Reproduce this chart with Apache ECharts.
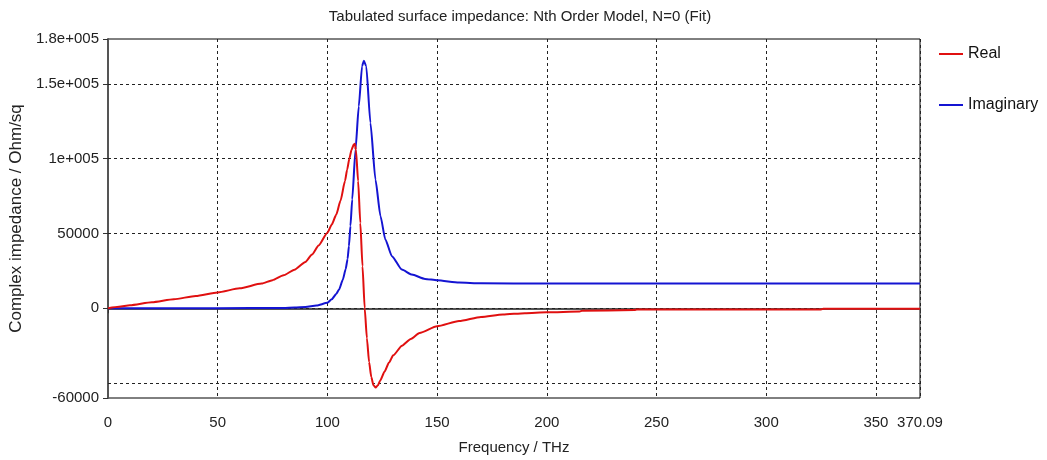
<!DOCTYPE html>
<html>
<head>
<meta charset="utf-8">
<script src="https://cdn.jsdelivr.net/npm/echarts@6/dist/echarts.min.js"></script>
<style>
html,body{margin:0;padding:0;background:#fff;}
#c{width:1047px;height:460px;}
</style>
</head>
<body>
<div id="c"></div>
<script>
// Data
var titleText = 'Tabulated surface impedance: Nth Order Model, N=0 (Fit)';
var seriesNames = ['Real', 'Imaginary'];

var realFreq = [0, 5, 10, 20, 30, 40, 50, 60, 70, 75, 80, 85, 90, 93, 96, 100, 102, 104, 106, 108, 109, 110, 111, 112, 112.5, 113, 114, 115, 116, 117, 118, 119, 120, 121, 122, 123, 124, 126, 128, 130, 134, 138, 142, 150, 160, 170, 180, 190, 200, 215, 216, 240, 241, 325, 326, 370.09];
var realVals = [0, 1000, 2000, 4000, 6000, 8200, 10600, 13300, 16500, 18800, 22000, 25800, 31000, 36000, 42000, 50500, 56000, 62500, 72000, 85000, 92700, 100000, 106000, 109500, 110000, 106000, 85000, 57000, 28000, 0, -20000, -36000, -46000, -51500, -53000, -51500, -48500, -42500, -36500, -31500, -25000, -20500, -16500, -12000, -8600, -5800, -4200, -3300, -2700, -2200, -1700, -1200, -800, -800, -300, -300];

var imagFreq = [0, 50, 80, 85, 90, 95, 100, 102, 104, 105.3, 107, 108.3, 109.2, 109.8, 110.5, 111.3, 112.8, 114.3, 115.8, 116.6, 117.7, 119.6, 121.9, 124.2, 126.4, 129.4, 133.9, 138.5, 144.5, 150, 160, 170, 200, 370.09];
var imagVals = [0, 0, 200, 500, 900, 1800, 3600, 6000, 9500, 12500, 19000, 26000, 33000, 41500, 55000, 72700, 106000, 135000, 161800, 165500, 161800, 124000, 86000, 61500, 46000, 34800, 25900, 22500, 19600, 18700, 17200, 16700, 16500, 16500];

var xTicks = [0, 50, 100, 150, 200, 250, 300, 350, 370.09];
var yTickValues = [-60000, 0, 50000, 100000, 150000, 180000];
var yTickLabels = ['-60000', '0', '50000', '1e+005', '1.5e+005', '1.8e+005'];
var yGridValues = [-50000, 0, 50000, 100000, 150000];

function pairs(xs, ys) {
  var out = [];
  for (var i = 0; i < xs.length; i++) out.push([xs[i], ys[i]]);
  return out;
}

var FONT = '"Liberation Sans", Arial, sans-serif';
var chart = echarts.init(document.getElementById('c'), null, {renderer: 'canvas'});

var yLabelMap = {};
yTickValues.forEach(function (v, i) { yLabelMap[v] = yTickLabels[i]; });

var gridMarkLines = yGridValues.map(function (v) { return {yAxis: v}; });

chart.setOption({
  animation: false,
  backgroundColor: '#ffffff',
  title: {
    text: titleText,
    left: 515,
    textAlign: 'center',
    top: 4,
    textStyle: {fontFamily: FONT, fontSize: 15, fontWeight: 'normal', color: '#222'}
  },
  legend: {
    orient: 'vertical',
    left: 934,
    top: 41,
    itemGap: 35,
    itemWidth: 24,
    itemHeight: 2,
    icon: 'rect',
    data: seriesNames,
    textStyle: {fontFamily: FONT, fontSize: 16, color: '#111'}
  },
  grid: {
    left: 108, right: 127, top: 39, bottom: 62,
    show: true, borderColor: '#000', borderWidth: 1, backgroundColor: '#fff'
  },
  xAxis: {
    type: 'value',
    min: 0,
    max: 370.09,
    interval: 50,
    name: 'Frequency / THz',
    nameLocation: 'middle',
    nameGap: 42,
    nameTextStyle: {fontFamily: FONT, fontSize: 15, color: '#222'},
    axisLine: {show: true, lineStyle: {color: '#555', width: 2}},
    axisTick: {show: true, length: 5, inside: false, lineStyle: {color: '#333', width: 1}},
    axisLabel: {
      margin: 17, fontFamily: FONT, fontSize: 15, color: '#222',
      showMinLabel: true, showMaxLabel: true,
      formatter: function (v) { return Math.abs(v - 370.09) < 1e-6 ? '370.09' : String(v); }
    },
    splitLine: {show: true, lineStyle: {color: '#222', type: [3, 3], width: 1}}
  },
  yAxis: {
    type: 'value',
    min: -60000,
    max: 180000,
    name: 'Complex impedance / Ohm/sq',
    nameLocation: 'middle',
    nameGap: 80,
    nameRotate: 90,
    nameTextStyle: {fontFamily: FONT, fontSize: 17, color: '#222'},
    axisLine: {show: true, lineStyle: {color: '#555', width: 2}},
    axisTick: {show: true, length: 5, customValues: yTickValues, lineStyle: {color: '#333', width: 1}},
    axisLabel: {
      margin: 9, fontFamily: FONT, fontSize: 15, color: '#222',
      customValues: yTickValues,
      formatter: function (v) { return yLabelMap[v] !== undefined ? yLabelMap[v] : ''; }
    },
    splitLine: {show: false}
  },
  series: [
    {
      name: seriesNames[0], type: 'line', showSymbol: false, symbol: 'none',
      smooth: 0.2, smoothMonotone: 'x',
      lineStyle: {color: '#e01010', width: 2}, itemStyle: {color: '#e01010'},
      data: pairs(realFreq, realVals), z: 3
    },
    {
      name: seriesNames[1], type: 'line', showSymbol: false, symbol: 'none',
      smooth: 0.2, smoothMonotone: 'x',
      lineStyle: {color: '#1414d2', width: 2}, itemStyle: {color: '#1414d2'},
      data: pairs(imagFreq, imagVals), z: 2,
      markLine: {
        silent: true,
        symbol: ['none', 'none'],
        label: {show: false},
        animation: false,
        lineStyle: {color: '#222', type: [3, 3], width: 1},
        emphasis: {disabled: true},
        data: gridMarkLines,
        z: 1
      }
    }
  ]
});
</script>
</body>
</html>
